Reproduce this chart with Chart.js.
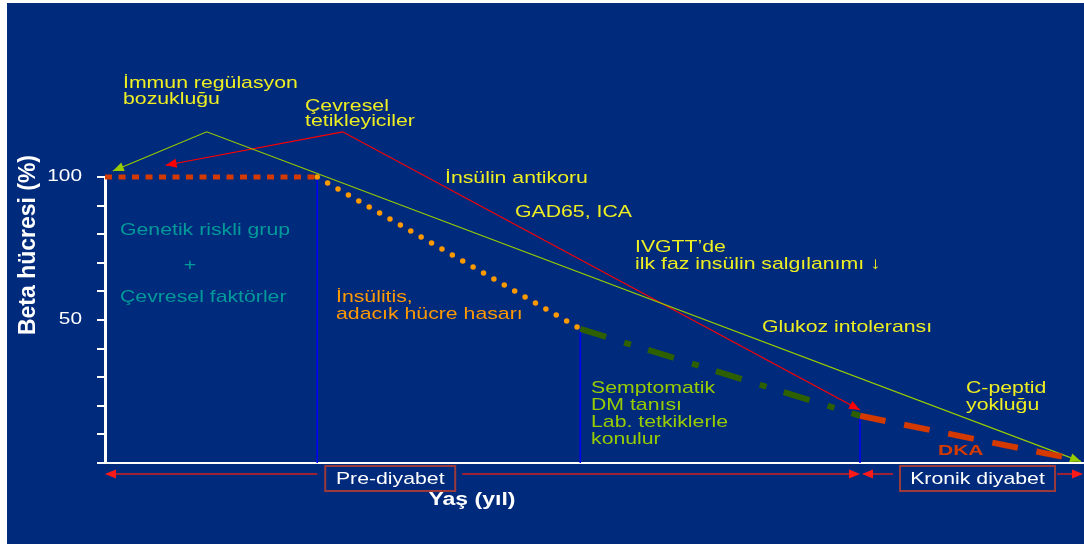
<!DOCTYPE html>
<html>
<head>
<meta charset="utf-8">
<script src="https://cdn.jsdelivr.net/npm/chart.js@4/dist/chart.umd.min.js"></script>
<style>
  html, body { margin: 0; padding: 0; background: #ffffff; }
  #wrap { width: 1084px; height: 544px; }
</style>
</head>
<body>
<div id="wrap"><canvas id="betaChart" width="1084" height="544"></canvas></div>
<script>
// stage boundaries on the age axis and beta cell mass (%) at each one
const stageX = [0, 21.7, 48.6, 77.2, 98.3];
const betaCell = [100, 100, 46.9, 16.5, 1.9];

// marker lines (immune dysregulation / environmental triggers)
const immuneX = [0.8, 10.4, 99.8];
const immuneY = [102.1, 115.8, 0.5];
const triggerX = [6.2, 24.3, 77.2];
const triggerY = [104.1, 115.8, 18.5];

const yTickValues = [100, 50];
const yTickLabels = ['100', '50'];
const stageNames = ['Pre-diyabet', 'Kronik diyabet'];

const NAVY = '#002a7c';
const YELLOW = '#eeee22';
const FONT = '"Liberation Sans", Arial, sans-serif';

function seg(i, j) {
    return [{ x: stageX[i], y: betaCell[i] }, { x: stageX[j], y: betaCell[j] }];
}
function pts(xs, ys) {
    return xs.map((x, i) => ({ x: x, y: ys[i] }));
}
function drop(i) {
    return [{ x: stageX[i], y: betaCell[i] }, { x: stageX[i], y: 0 }];
}

function txt(ctx, s, x, y, o) {
    ctx.save();
    ctx.font = o.font || ('17px ' + FONT);
    ctx.fillStyle = o.color || YELLOW;
    ctx.textBaseline = 'middle';
    ctx.textAlign = o.align || 'left';
    ctx.translate(x, y);
    if (o.rot) ctx.rotate(o.rot);
    let sx = o.sx || 1.25;
    if (o.width) sx = o.width / ctx.measureText(s).width;
    ctx.scale(sx, o.sy || 1);
    ctx.fillText(s, 0, 0);
    ctx.restore();
}

function head(ctx, x, y, fromX, fromY, color, len, half) {
    const a = Math.atan2(y - fromY, x - fromX);
    ctx.save();
    ctx.translate(x, y);
    ctx.rotate(a);
    ctx.fillStyle = color;
    ctx.beginPath();
    ctx.moveTo(0, 0);
    ctx.lineTo(-len, -half);
    ctx.lineTo(-len, half);
    ctx.closePath();
    ctx.fill();
    ctx.restore();
}

const backdrop = {
    id: 'backdrop',
    beforeDraw(chart) {
        const ctx = chart.ctx;
        ctx.save();
        ctx.fillStyle = '#ffffff';
        ctx.fillRect(0, 0, chart.width, chart.height);
        ctx.fillStyle = NAVY;
        ctx.fillRect(7, 3, chart.width - 7, chart.height - 3);
        ctx.restore();
    }
};

const decorations = {
    id: 'decorations',
    afterDatasetsDraw(chart) {
        const ctx = chart.ctx;
        const xs = chart.scales.x, ys = chart.scales.y;
        const area = chart.chartArea;

        // arrow heads on the two marker lines
        [[4, '#99cc00'], [5, '#ff0000']].forEach(([idx, col]) => {
            const p = chart.getDatasetMeta(idx).data;
            const n = p.length - 1;
            head(ctx, p[0].x, p[0].y, p[1].x, p[1].y, col, 11, 4.5);
            head(ctx, p[n].x, p[n].y, p[n - 1].x, p[n - 1].y, col, 11, 4.5);
        });

        // y tick labels
        yTickValues.forEach((v, i) => {
            txt(ctx, yTickLabels[i], 82, ys.getPixelForValue(v), { color: '#ffffff', align: 'right', font: '16px ' + FONT, sx: 1.3 });
        });

        // stage arrows under the axis
        const ay = 474;
        const x1 = xs.getPixelForValue(stageX[1]);
        const x3 = xs.getPixelForValue(stageX[3]);
        const lineCol = '#9b2335';
        const headCol = '#ff1a1a';
        const box1 = { l: x1 + 8, w: 130 };
        const box2 = { l: x3 + 40, w: 155 };
        ctx.save();
        ctx.strokeStyle = lineCol;
        ctx.lineWidth = 2;
        ctx.beginPath();
        ctx.moveTo(x1, ay); ctx.lineTo(area.left + 8, ay);
        ctx.moveTo(box1.l + box1.w + 7, ay); ctx.lineTo(x3 - 8, ay);
        ctx.moveTo(box2.l - 7, ay); ctx.lineTo(x3 + 10, ay);
        ctx.moveTo(box2.l + box2.w + 2, ay); ctx.lineTo(area.right - 8, ay);
        ctx.stroke();
        ctx.restore();
        head(ctx, area.left, ay, area.left + 20, ay, headCol, 11, 4.5);
        head(ctx, x3, ay, x3 - 20, ay, headCol, 11, 4.5);
        head(ctx, x3 + 2, ay, x3 + 20, ay, headCol, 11, 4.5);
        head(ctx, area.right, ay, area.right - 20, ay, headCol, 11, 4.5);

        ctx.save();
        ctx.strokeStyle = '#9b3a3a';
        ctx.lineWidth = 2;
        ctx.strokeRect(box1.l, 466, box1.w, 25);
        ctx.strokeRect(box2.l, 466, box2.w, 25);
        ctx.restore();
        txt(ctx, stageNames[0], box1.l + box1.w / 2, 479, { color: '#ffffff', align: 'center' });
        txt(ctx, stageNames[1], box2.l + box2.w / 2, 479, { color: '#ffffff', align: 'center' });

        // axis titles
        txt(ctx, 'Yaş (yıl)', 472, 500, { color: '#ffffff', align: 'center', font: 'bold 18px ' + FONT, sx: 1.28 });
        txt(ctx, 'Beta hücresi (%)', 29, 245, { color: '#ffffff', align: 'center', font: 'bold 18px ' + FONT, rot: -Math.PI / 2, width: 180, sy: 1.3 });

        // annotations
        txt(ctx, 'İmmun regülasyon', 123, 83, {});
        txt(ctx, 'bozukluğu', 123, 99, {});
        txt(ctx, 'Çevresel', 305, 106, {});
        txt(ctx, 'tetikleyiciler', 305, 121, {});
        txt(ctx, 'İnsülin antikoru', 445, 178, {});
        txt(ctx, 'GAD65, ICA', 515, 212, {});
        txt(ctx, 'IVGTT’de', 635, 247, {});
        txt(ctx, 'ilk faz insülin salgılanımı ↓', 635, 264, {});
        txt(ctx, 'Glukoz intoleransı', 762, 327, {});
        txt(ctx, 'C-peptid', 966, 388, {});
        txt(ctx, 'yokluğu', 966, 405, {});

        const teal = '#009a9a';
        txt(ctx, 'Genetik riskli grup', 120, 230, { color: teal });
        txt(ctx, '+', 190, 265, { color: teal, align: 'center' });
        txt(ctx, 'Çevresel faktörler', 120, 297, { color: teal });

        const orange = '#ff9900';
        txt(ctx, 'İnsülitis,', 336, 297, { color: orange });
        txt(ctx, 'adacık hücre hasarı', 336, 314, { color: orange });

        const lime = '#99cc00';
        txt(ctx, 'Semptomatik', 591, 388, { color: lime });
        txt(ctx, 'DM tanısı', 591, 405, { color: lime });
        txt(ctx, 'Lab. tetkiklerle', 591, 422, { color: lime });
        txt(ctx, 'konulur', 591, 439, { color: lime });

        txt(ctx, 'DKA', 938, 451, { color: '#d43a00', font: 'bold 15px ' + FONT, sx: 1.4 });
    }
};

const ctx = document.getElementById('betaChart').getContext('2d');
new Chart(ctx, {
    type: 'line',
    data: {
        datasets: [
            { data: seg(0, 1), borderColor: '#d43a00', borderWidth: 5, borderDash: [7, 6.5], borderCapStyle: 'butt' },
            { data: seg(1, 2), borderColor: '#ff9900', borderWidth: 5.5, borderDash: [0, 12], borderCapStyle: 'round' },
            { data: seg(2, 3), borderColor: '#2f6000', borderWidth: 6, borderDash: [27, 19, 7, 18], borderCapStyle: 'butt' },
            { data: seg(3, 4), borderColor: '#d43a00', borderWidth: 6, borderDash: [26, 19], borderCapStyle: 'butt' },
            { data: pts(immuneX, immuneY), borderColor: '#99cc00', borderWidth: 1.2 },
            { data: pts(triggerX, triggerY), borderColor: '#ff0000', borderWidth: 1.2 },
            { data: drop(1), borderColor: '#0000ff', borderWidth: 1.5 },
            { data: drop(2), borderColor: '#0000ff', borderWidth: 1.5 },
            { data: drop(3), borderColor: '#0000ff', borderWidth: 1.5 }
        ].map(d => Object.assign({ pointRadius: 0, tension: 0, fill: false, clip: false }, d))
    },
    options: {
        responsive: false,
        animation: false,
        events: [],
        layout: { padding: { left: 7, top: 177, right: 1, bottom: 0 } },
        scales: {
            x: {
                type: 'linear',
                min: 0,
                max: 100,
                grid: { display: false },
                ticks: { display: false },
                border: { color: '#ffffff', width: 2 },
                afterFit: (s) => { s.height = 81; }
            },
            y: {
                type: 'linear',
                min: 0,
                max: 100,
                ticks: { display: false, stepSize: 10 },
                grid: { drawOnChartArea: false, drawTicks: true, tickLength: 8, color: '#ffffff', lineWidth: 2 },
                border: { color: '#ffffff', width: 3 },
                afterFit: (s) => { s.width = 98; }
            }
        },
        plugins: {
            legend: { display: false },
            tooltip: { enabled: false }
        }
    },
    plugins: [backdrop, decorations]
});
</script>
</body>
</html>
